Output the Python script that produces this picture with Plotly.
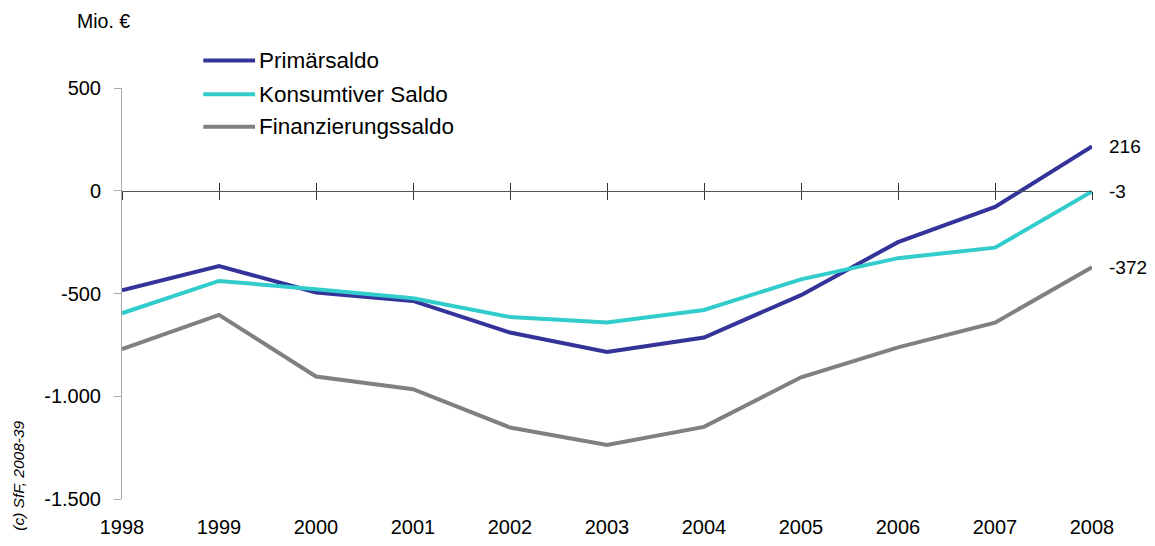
import plotly.graph_objects as go

years = [1998, 1999, 2000, 2001, 2002, 2003, 2004, 2005, 2006, 2007, 2008]
primaersaldo = [-484, -366, -495, -536, -690, -784, -714, -508, -250, -79, 216]
konsumtiver_saldo = [-596, -439, -479, -523, -614, -641, -580, -431, -328, -277, -3]
finanzierungssaldo = [-771, -604, -904, -966, -1152, -1237, -1149, -908, -762, -642, -372]

series_names = ["Primärsaldo", "Konsumtiver Saldo", "Finanzierungssaldo"]
series_values = [primaersaldo, konsumtiver_saldo, finanzierungssaldo]
series_colors = ["#333399", "#33CCCC", "#808080"]

y_tickvals = [500, 0, -500, -1000, -1500]
y_ticktext = ["500", "0", "-500", "-1.000", "-1.500"]

FONT = "Liberation Sans, Arial, sans-serif"

fig = go.Figure()
for name, vals, col in zip(series_names, series_values, series_colors):
    fig.add_trace(go.Scatter(x=years, y=vals, mode="lines", name=name,
                             line=dict(color=col, width=4), showlegend=False))

# end labels
for vals in series_values:
    fig.add_annotation(x=years[-1], y=vals[-1], text=str(vals[-1]), showarrow=False,
                       xanchor="left", yanchor="middle", xshift=15,
                       font=dict(family=FONT, size=19, color="#000000"))

# manual legend
leg_y = [1.067, 0.985, 0.906]
for name, col, ly in zip(series_names, series_colors, leg_y):
    fig.add_shape(type="line", xref="paper", yref="paper", x0=0.0838, x1=0.1372,
                  y0=ly, y1=ly, line=dict(color=col, width=4))
    fig.add_annotation(xref="paper", yref="paper", x=0.1395, y=ly, text=name,
                       showarrow=False, xanchor="left", yanchor="middle",
                       font=dict(family=FONT, size=22.5, color="#000000"))

fig.add_annotation(xref="paper", yref="paper", x=-0.048, y=1.162, text="Mio. €",
                   showarrow=False, xanchor="left", yanchor="middle",
                   font=dict(family=FONT, size=19.5, color="#000000"))

fig.add_annotation(xref="paper", yref="paper", x=-0.107, y=0.057, text="<i>(c) SfF, 2008-39</i>",
                   showarrow=False, textangle=-90, xanchor="center", yanchor="middle",
                   font=dict(family=FONT, size=15.5, color="#000000"))

xrange = [years[0], years[-1]]
fig.update_layout(
    width=1155, height=546, autosize=False,
    margin=dict(l=122, r=63, t=88, b=47, autoexpand=False),
    paper_bgcolor="white", plot_bgcolor="white",
    font=dict(family=FONT, color="#000000"),
    xaxis=dict(range=xrange, tickvals=years, ticktext=[str(y) for y in years],
               showgrid=False, zeroline=False, showline=False, automargin=False,
               ticks="outside", ticklen=10, tickcolor="rgba(0,0,0,0)",
               tickfont=dict(family=FONT, size=20, color="#000000")),
    xaxis2=dict(range=xrange, overlaying="x", anchor="free", position=0.75,
                tickvals=years, showticklabels=False, showgrid=False, zeroline=False,
                showline=True, linecolor="#555555", linewidth=1, automargin=False,
                ticks="outside", ticklen=8, tickcolor="#333333", tickwidth=1),
    xaxis3=dict(range=xrange, overlaying="x", anchor="free", position=0.75,
                tickvals=years, showticklabels=False, showgrid=False, zeroline=False,
                showline=False, automargin=False,
                ticks="inside", ticklen=8, tickcolor="#333333", tickwidth=1),
    yaxis=dict(range=[-1500, 500], tickvals=y_tickvals, ticktext=y_ticktext,
               showgrid=False, zeroline=False, showline=True, linecolor="#AAAAAA",
               linewidth=1, ticks="outside", ticklen=7, tickcolor="#AAAAAA",
               automargin=False, ticklabelstandoff=9,
               tickfont=dict(family=FONT, size=20, color="#000000")),
)

# invisible helper traces so the overlay axes are drawn
fig.add_trace(go.Scatter(x=[years[0]], y=[0], xaxis="x2", mode="markers",
                         marker=dict(opacity=0), showlegend=False, hoverinfo="skip"))
fig.add_trace(go.Scatter(x=[years[0]], y=[0], xaxis="x3", mode="markers",
                         marker=dict(opacity=0), showlegend=False, hoverinfo="skip"))

fig.write_html("out.html", config={"displayModeBar": False},
               post_script="document.body.style.margin='0';document.body.style.overflow='hidden';")
